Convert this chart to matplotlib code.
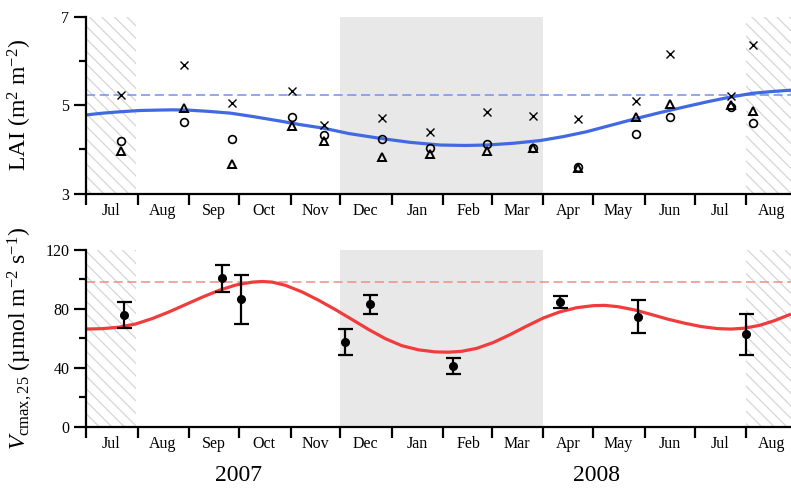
import matplotlib
matplotlib.use('Agg')
import matplotlib.pyplot as plt
import matplotlib.dates as mdates
import matplotlib.ticker as mticker
import numpy as np
from matplotlib.collections import LineCollection
from matplotlib.transforms import IdentityTransform, blended_transform_factory

plt.rcParams['font.family'] = ['Liberation Serif', 'DejaVu Serif']
plt.rcParams['mathtext.fontset'] = 'custom'
plt.rcParams['mathtext.rm'] = 'Liberation Serif'
plt.rcParams['mathtext.it'] = 'Liberation Serif:italic'

# ---------------- data ----------------
lai_dates = ['2007-07-22', '2007-08-29', '2007-09-27', '2007-11-02', '2007-11-21',
             '2007-12-26', '2008-01-24', '2008-02-27', '2008-03-26', '2008-04-22',
             '2008-05-27', '2008-06-16', '2008-07-23', '2008-08-05']
lai_cross = [5.23, 5.91, 5.06, 5.33, 4.55, 4.70, 4.39, 4.84, 4.76, 4.69, 5.10, 6.15, 5.21, 6.35]
lai_circle = [4.18, 4.63, 4.24, 4.73, 4.33, 4.24, 4.03, 4.12, 4.04, 3.60, 4.36, 4.73, 4.95, 4.59]
lai_triangle = [3.97, 4.94, 3.67, 4.53, 4.18, 3.82, 3.90, 3.96, 4.04, 3.57, 4.74, 5.03, 5.00, 4.87]
lai_ref = 5.23

# fitted LAI curve (days after 2007-07-01)
lai_fit_day = [0, 10, 20, 32, 44, 52, 61, 74, 87, 101, 117, 129, 143, 158, 177, 195,
               213, 228, 241, 257, 273, 287, 301, 316, 331, 346, 361, 374, 387, 401, 413, 424]
lai_fit_val = [4.78, 4.82, 4.85, 4.88, 4.89, 4.895, 4.89, 4.86, 4.82, 4.74, 4.64, 4.56, 4.48,
               4.36, 4.25, 4.16, 4.10, 4.09, 4.10, 4.14, 4.20, 4.29, 4.40, 4.55, 4.70, 4.84,
               4.97, 5.08, 5.18, 5.27, 5.31, 5.34]

vc_dates = ['2007-07-24', '2007-09-21', '2007-10-02', '2007-12-04', '2007-12-19',
            '2008-02-07', '2008-04-11', '2008-05-28', '2008-08-01']
vc_mean = [75.8, 100.7, 86.5, 57.7, 83.2, 41.3, 84.7, 74.8, 62.7]
vc_err = [8.8, 9.0, 16.7, 8.8, 6.5, 5.4, 4.1, 11.1, 14.0]
vc_ref = 98.5

# fitted Vcmax curve (days after 2007-07-01)
vc_fit_day = [0, 10, 20, 30, 40, 50, 60, 70, 80, 90, 100, 106, 112, 120, 130, 140, 150,
              160, 170, 180, 190, 200, 210, 218, 226, 235, 245, 255, 265, 275, 285, 295,
              305, 312, 320, 330, 340, 350, 360, 370, 380, 388, 396, 405, 414, 424]
vc_fit_val = [66.3, 66.6, 67.6, 69.8, 73.5, 78.0, 83.0, 88.0, 92.6, 96.2, 98.2, 98.6, 98.2,
              96.0, 91.5, 85.8, 79.5, 72.8, 66.0, 59.8, 55.0, 52.2, 50.8, 50.6, 51.2, 53.2,
              57.2, 62.5, 68.3, 73.8, 78.0, 80.8, 82.2, 82.4, 81.5, 79.3, 76.2, 73.0, 70.3,
              68.0, 66.6, 66.3, 66.9, 68.8, 72.0, 76.5]

months_x_start = '2007-07-01'
x_end = '2008-08-28'
winter_span = ('2007-12-01', '2008-04-01')
hatch_spans = [('2007-07-01', '2007-07-31'), ('2008-08-01', '2008-08-28')]
year_labels = ['2007', '2008']
year_label_dates = ['2007-10-01', '2008-05-03']

# ---------------- helpers ----------------
def dn(s):
    return mdates.date2num(np.datetime64(s))

x0 = dn(months_x_start)
lai_x = [dn(d) for d in lai_dates]
vc_x = [dn(d) for d in vc_dates]
lai_fit_x = x0 + np.array(lai_fit_day, dtype=float)
vc_fit_x = x0 + np.array(vc_fit_day, dtype=float)

W, H = 791, 490
fig = plt.figure(figsize=(W / 100, H / 100), dpi=100)
ax1 = fig.add_axes([86 / W, 1 - 193.7 / H, 705 / W, 177 / H])
ax2 = fig.add_axes([86 / W, 1 - 426.7 / H, 705 / W, 176.7 / H])


def add_hatch(ax, a, b):
    patch = ax.axvspan(dn(a), dn(b), facecolor='none', edgecolor='none', zorder=0.4)
    segs = []
    step = 12.5
    c = -H
    while c < W + H:
        segs.append([(c, H), (c + H, 0)])
        c += step
    lc = LineCollection(segs, colors='#d6d6d6', linewidths=0.9,
                        transform=IdentityTransform(), zorder=0.5)
    ax.add_collection(lc, autolim=False)
    lc.set_clip_path(patch)


for ax in (ax1, ax2):
    ax.axvspan(dn(winter_span[0]), dn(winter_span[1]), color='#e8e8e8', lw=0, zorder=0.3)
    for a, b in hatch_spans:
        add_hatch(ax, a, b)
    ax.set_xlim(x0, dn(x_end))
    ax.spines['top'].set_visible(False)
    ax.spines['right'].set_visible(False)
    for s in ('left', 'bottom'):
        ax.spines[s].set_linewidth(1.6)
    ax.xaxis.set_major_locator(mdates.MonthLocator())
    ax.xaxis.set_major_formatter(mticker.NullFormatter())
    ax.xaxis.set_minor_locator(mdates.MonthLocator(bymonthday=16))
    ax.xaxis.set_minor_formatter(mdates.DateFormatter('%b'))
    ax.tick_params(axis='x', which='major', direction='out', length=8, width=1.6)
    ax.tick_params(axis='x', which='minor', length=0, pad=7, labelsize=11.5)
    ax.tick_params(axis='y', which='major', direction='out', length=9, width=1.6,
                   labelsize=11.5, pad=3)
    ax.tick_params(axis='y', which='minor', direction='out', length=5, width=1.6)

# ---- top: LAI ----
ax1.axhline(lai_ref, color='#7392e8', lw=1.1, ls=(0, (6, 3)), zorder=1)
ax1.plot(lai_fit_x, lai_fit_val, color='#4169e1', lw=2.3, zorder=2,
         solid_joinstyle='round', solid_capstyle='butt')
ax1.plot(lai_x, lai_cross, ls='none', marker='x', color='k', ms=5.2, mew=1.0, zorder=3)
ax1.plot(lai_x, lai_circle, ls='none', marker='o', mfc='none', mec='k', ms=5.6, mew=1.2, zorder=3)
ax1.plot(lai_x, lai_triangle, ls='none', marker='^', mfc='none', mec='k', ms=5.8, mew=1.4, zorder=3)
ax1.set_ylim(3, 7)
ax1.yaxis.set_major_locator(mticker.FixedLocator([3, 5, 7]))
ax1.yaxis.set_minor_locator(mticker.FixedLocator([4, 6]))
ax1.set_ylabel('LAI (m$^{2}$ m$^{-2}$)', fontsize=17)
ax1.yaxis.set_label_coords(-0.074, 0.5)

# ---- bottom: Vcmax ----
ax2.axhline(vc_ref, color='#f08c8c', lw=1.1, ls=(0, (6, 3)), zorder=1)
ax2.plot(vc_fit_x, vc_fit_val, color='#f03c3c', lw=2.3, zorder=2,
         solid_joinstyle='round', solid_capstyle='butt')
ax2.errorbar(vc_x, vc_mean, yerr=vc_err, fmt='o', color='k', ms=5.5, elinewidth=1.6,
             capsize=5.4, capthick=1.6, zorder=3)
ax2.set_ylim(0, 120)
ax2.yaxis.set_major_locator(mticker.FixedLocator([0, 40, 80, 120]))
ax2.yaxis.set_minor_locator(mticker.FixedLocator([20, 60, 100]))
ax2.set_ylabel(r'$V_{\mathrm{cmax,25}}$ (µmol m$^{-2}$ s$^{-1}$)', fontsize=17)
ax2.yaxis.set_label_coords(-0.074, 0.5)

tr = blended_transform_factory(ax2.transData, ax2.transAxes)
for lab, d in zip(year_labels, year_label_dates):
    ax2.text(dn(d), -0.279, lab, transform=tr, ha='center', va='center', fontsize=17)

fig.savefig('out.png', dpi=100)
